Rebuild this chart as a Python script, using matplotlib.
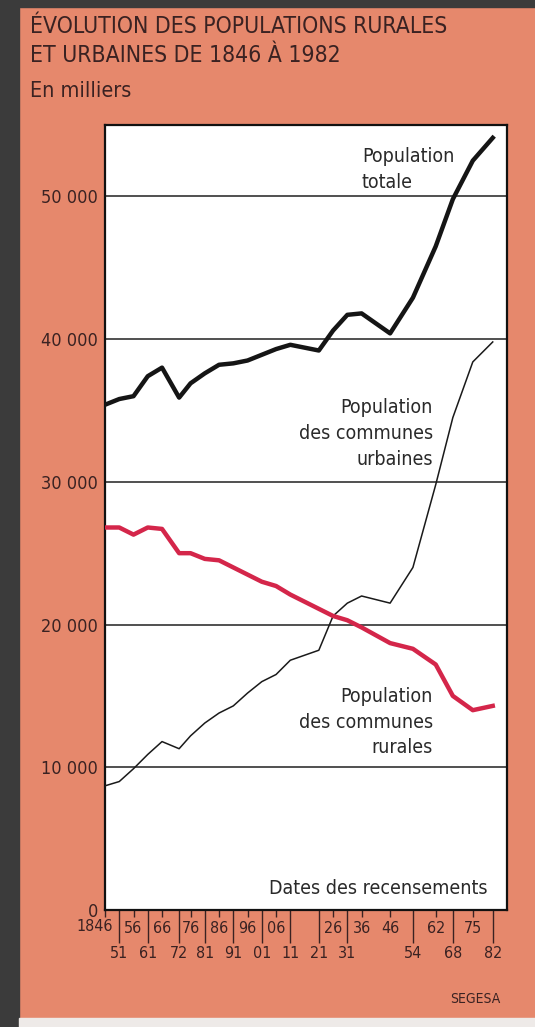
"""
Evolution des populations rurales et urbaines de 1846 a 1982 (SEGESA).
"""
import matplotlib
matplotlib.use('Agg')
import matplotlib.pyplot as plt
from matplotlib.patches import Rectangle
from matplotlib.ticker import FixedLocator, FuncFormatter

# census years and populations (thousands)
years = [1846, 1851, 1856, 1861, 1866, 1872, 1876, 1881, 1886, 1891, 1896,
         1901, 1906, 1911, 1921, 1926, 1931, 1936, 1946, 1954, 1962, 1968,
         1975, 1982]
total = [35400, 35800, 36000, 37400, 38000, 35900, 36900, 37600, 38200,
         38300, 38500, 38900, 39300, 39600, 39200, 40600, 41700, 41800,
         40400, 42900, 46500, 49800, 52500, 54100]
urban = [8700, 9000, 9900, 10900, 11800, 11300, 12200, 13100, 13800, 14300,
         15200, 16000, 16500, 17500, 18200, 20600, 21500, 22000, 21500,
         24000, 29800, 34500, 38400, 39800]
rural = [26800, 26800, 26300, 26800, 26700, 25000, 25000, 24600, 24500,
         24000, 23500, 23000, 22700, 22100, 21100, 20600, 20300, 19800,
         18700, 18300, 17200, 15000, 14000, 14300]

top_row = [1846, 1856, 1866, 1876, 1886, 1896, 1906, 1926, 1936, 1946, 1962,
           1975]
bottom_row = [1851, 1861, 1872, 1881, 1891, 1901, 1911, 1921, 1931, 1954,
              1968, 1982]
y_ticks = [0, 10000, 20000, 30000, 40000, 50000]

SALMON = '#e6886c'
DARK = '#3b3b3b'
INK = '#3a2222'
RED = '#d4264a'

plt.rcParams['font.family'] = ['DejaVu Sans']
plt.rcParams['font.stretch'] = 'condensed'

W, H = 535, 1027
fig = plt.figure(figsize=(W / 100, H / 100), dpi=100)
fig.patch.set_facecolor(SALMON)

# dark strips of the scan (left and top) and the pale strip at the bottom
fig.patches.append(Rectangle((0, 0), 19 / W, 1, transform=fig.transFigure,
                             color=DARK, zorder=-1))
fig.patches.append(Rectangle((0, 1 - 7 / H), 1, 7 / H,
                             transform=fig.transFigure, color=DARK, zorder=-1))
fig.patches.append(Rectangle((19 / W, 0), 1, 9 / H,
                             transform=fig.transFigure, color='#eeeae8',
                             zorder=-1))

title_kw = dict(fontsize=16.5, color=INK, va='baseline')
fig.text(30 / W, 1 - 33 / H, 'ÉVOLUTION DES POPULATIONS RURALES', **title_kw)
fig.text(30 / W, 1 - 62 / H, 'ET URBAINES DE 1846 À 1982', **title_kw)
fig.text(30 / W, 1 - 97 / H, 'En milliers', fontsize=15.5, color=INK,
         va='baseline')
fig.text(500 / W, 1 - 1003 / H, 'SEGESA', fontsize=10, color=INK,
         ha='right', va='baseline')

ax = fig.add_axes([105 / W, 117 / H, 402 / W, 785 / H])
ax.set_facecolor('white')
ax.set_xlim(1846, 1987)
ax.set_ylim(0, 55000)

for y in y_ticks[1:]:
    ax.axhline(y, color='#202020', lw=1.1, zorder=1)

ax.plot(years, urban, color='#1a1a1a', lw=1.1, zorder=3)
ax.plot(years, rural, color=RED, lw=3.2, solid_joinstyle='round', zorder=3)
ax.plot(years, total, color='#151515', lw=3.2, solid_joinstyle='round',
        zorder=4)

for side in ax.spines.values():
    side.set_linewidth(1.6)
    side.set_color('#111111')

ax.yaxis.set_major_locator(FixedLocator(y_ticks))
ax.yaxis.set_major_formatter(
    FuncFormatter(lambda v, _: f'{int(v):,}'.replace(',', ' ')))
ax.tick_params(axis='y', length=0, pad=5, labelsize=13, labelcolor=INK)

ax.xaxis.set_major_locator(FixedLocator(bottom_row))
ax.xaxis.set_minor_locator(FixedLocator(top_row))
ax.xaxis.set_major_formatter(FuncFormatter(lambda v, _: f'{int(v) % 100:02d}'))
ax.xaxis.set_minor_formatter(
    FuncFormatter(lambda v, _: '' if int(v) == 1846 else f'{int(v) % 100:02d}'))
ax.tick_params(axis='x', which='major', length=24, width=1.0, color=INK,
               pad=2, labelsize=11.5, labelcolor=INK)
ax.tick_params(axis='x', which='minor', length=5, width=1.0, color=INK,
               pad=3, labelsize=11.5, labelcolor=INK)
ax.text(1846 - 3.5, -0.0215, '1846', transform=ax.get_xaxis_transform(),
        ha='center', va='center', fontsize=11.5, color=INK, clip_on=False)

kw = dict(fontsize=14, color='#2a2a2a', linespacing=1.45)
ax.text(1936.1, 51900, 'Population\ntotale', ha='left', va='center', **kw)
ax.text(1961.0, 33400, 'Population\ndes communes\nurbaines', ha='right',
        va='center', **kw)
ax.text(1961.0, 13170, 'Population\ndes communes\nrurales', ha='right',
        va='center', **kw)
ax.text(1980.0, 1540, 'Dates des recensements', ha='right', va='center', **kw)

fig.savefig('out.png', dpi=100, facecolor=fig.get_facecolor())
